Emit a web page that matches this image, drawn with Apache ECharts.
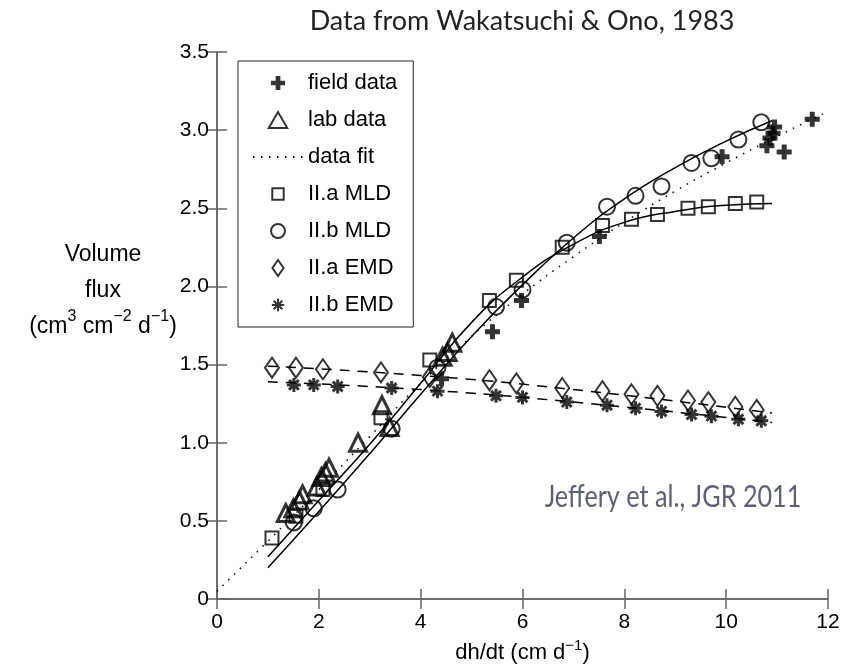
<!DOCTYPE html>
<html>
<head>
<meta charset="utf-8">
<script src="https://cdn.jsdelivr.net/npm/echarts@6/dist/echarts.min.js"></script>
<style>
  html, body { margin: 0; padding: 0; background: #fff; }
  #chart { width: 842px; height: 667px; }
</style>
</head>
<body>
<div id="chart"></div>
<script>
// tick labels
var xTickLabels = ['0', '2', '4', '6', '8', '10', '12'];
var yTickLabels = ['0', '0.5', '1.0', '1.5', '2.0', '2.5', '3.0', '3.5'];

// field data (crosses)
var fieldX = [4.41, 5.41, 5.98, 7.51, 9.92, 10.80, 10.86, 10.92, 10.95, 11.14, 11.69];
var fieldY = [1.41, 1.71, 1.91, 2.32, 2.83, 2.90, 2.95, 2.98, 3.02, 2.86, 3.07];

// lab data (triangles)
var labX = [1.35, 1.50, 1.62, 1.68, 1.96, 2.05, 2.13, 2.20, 2.77, 3.24, 3.39, 4.43, 4.53, 4.62];
var labY = [0.55, 0.58, 0.63, 0.67, 0.72, 0.78, 0.81, 0.84, 1.00, 1.24, 1.10, 1.55, 1.58, 1.64];

// data fit (dotted)
var fitX = [0, 1, 2, 3, 4, 5, 6, 7, 8, 9, 10, 11, 12];
var fitY = [0.05, 0.37, 0.70, 1.04, 1.38, 1.68, 1.95, 2.19, 2.41, 2.61, 2.79, 2.96, 3.12];

// II.a model points
var aX = [1.08, 1.55, 2.08, 3.22, 4.18, 5.35, 5.88, 6.78, 7.57, 8.14, 8.65, 9.25, 9.65, 10.18, 10.60];
var aMLD = [0.39, 0.53, 0.70, 1.16, 1.53, 1.91, 2.04, 2.25, 2.39, 2.43, 2.46, 2.50, 2.51, 2.53, 2.54];
var aEMD = [1.48, 1.48, 1.47, 1.45, 1.42, 1.40, 1.38, 1.35, 1.33, 1.31, 1.30, 1.27, 1.26, 1.23, 1.21];

// II.b model points
var bX = [1.51, 1.90, 2.37, 3.43, 4.33, 5.48, 6.00, 6.87, 7.66, 8.22, 8.73, 9.32, 9.71, 10.24, 10.69];
var bMLD = [0.49, 0.58, 0.70, 1.09, 1.48, 1.87, 1.98, 2.28, 2.51, 2.58, 2.64, 2.79, 2.82, 2.94, 3.05];
var bEMD = [1.37, 1.37, 1.36, 1.35, 1.33, 1.30, 1.29, 1.26, 1.24, 1.22, 1.20, 1.18, 1.17, 1.15, 1.14];

// fitted curves
var curveX = [1, 2, 3, 4, 5, 6, 7, 8, 9, 10, 10.9];
var aMLDFit = [0.27, 0.63, 0.99, 1.38, 1.77, 2.06, 2.27, 2.41, 2.48, 2.52, 2.53];
var bMLDFit = [0.20, 0.56, 0.93, 1.31, 1.68, 2.01, 2.31, 2.56, 2.76, 2.93, 3.06];
var emdX = [1, 4, 7, 10.9];
var aEMDFit = [1.49, 1.43, 1.34, 1.19];
var bEMDFit = [1.39, 1.34, 1.26, 1.13];

function pairs(xs, ys) {
    return xs.map(function (x, i) { return [x, ys[i]]; });
}

var font = 'Liberation Sans, Arial, sans-serif';
var axisColor = '#666';
var crossPath = 'path://M-1,-3H1V-1H3V1H1V3H-1V1H-3V-1H-1Z';
var starPath = 'path://M0,-10L0,10M-10,0L10,0M-7,-7L7,7M-7,7L7,-7';
// legend icons (extra move-to points pad the box so icons keep their size)
var legendIcons = {
    'field data': 'path://M-3.4,-3.4M3.4,3.4M-1,-3H1V-1H3V1H1V3H-1V1H-3V-1H-1Z',
    'lab data': 'path://M0,-10L8.66,5L-8.66,5Z',
    'II.a MLD': 'path://M-2,-2M12,12M0,0H10V10H0Z',
    'II.b MLD': 'path://M-11.5,-11.5M11.5,11.5M-10,0A10,10,0,1,0,10,0A10,10,0,1,0,-10,0Z',
    'II.a EMD': 'path://M0,-10L7,0L0,10L-7,0Z',
    'II.b EMD': 'path://M-13,-13M13,13M0,-10L0,10M-10,0L10,0M-7,-7L7,7M-7,7L7,-7'
};
var legendNames = ['field data', 'lab data', 'data fit', 'II.a MLD', 'II.b MLD', 'II.a EMD', 'II.b EMD'];

function curve(name, data, type) {
    return {
        name: name,
        type: 'line',
        data: data,
        smooth: true,
        showSymbol: false,
        symbol: 'none',
        silent: true,
        lineStyle: { color: '#000', width: 1.5, type: type || 'solid' },
        z: 2
    };
}

function hollow(name, data, symbol, size, bw) {
    return {
        name: name,
        type: 'scatter',
        data: data,
        symbol: symbol,
        symbolSize: size,
        itemStyle: { color: 'rgba(255,255,255,0)', borderColor: '#000', borderWidth: bw },
        z: 3
    };
}

var supStyle = { fontFamily: font, fontSize: 15, lineHeight: 18, verticalAlign: 'top', color: '#000' };

var chart = echarts.init(document.getElementById('chart'));
chart.setOption({
    animation: false,
    backgroundColor: '#fff',
    grid: { left: 217, right: 14, top: 52, bottom: 68, containLabel: false, outerBoundsMode: 'none' },
    legend: {
        data: legendNames.map(function (n) {
            return legendIcons[n] ? { name: n, icon: legendIcons[n] } : { name: n };
        }),
        orient: 'vertical',
        left: 238,
        top: 61,
        padding: [11, 16, 11, 14],
        itemWidth: 50,
        itemHeight: 16,
        itemGap: 15,
        backgroundColor: '#fff',
        borderColor: '#222',
        borderWidth: 1,
        borderRadius: 0,
        selectedMode: false,
        textStyle: { fontFamily: font, fontSize: 22, color: '#000', lineHeight: 22 }
    },
    xAxis: [{
        type: 'value',
        min: 0, max: 12, interval: 2,
        name: 'dh/dt (cm d{s|−1})',
        nameLocation: 'middle',
        nameGap: 39,
        nameTextStyle: { fontFamily: font, fontSize: 22, lineHeight: 30, color: '#000', rich: { s: supStyle } },
        axisLine: { lineStyle: { color: axisColor, width: 1.5 } },
        axisTick: { inside: true, length: 10, lineStyle: { color: axisColor, width: 1.5 } },
        axisLabel: {
            fontFamily: font, fontSize: 21, color: '#000', margin: 13,
            formatter: function (v) { return xTickLabels[Math.round(v / 2)]; }
        },
        splitLine: { show: false }
    }, {
        type: 'value', position: 'top',
        min: 0, max: 12, interval: 2,
        axisLine: { lineStyle: { color: axisColor, width: 1.5 } },
        axisTick: { inside: true, length: 10, lineStyle: { color: axisColor, width: 1.5 } },
        axisLabel: { show: false },
        splitLine: { show: false }
    }],
    yAxis: [{
        type: 'value',
        min: 0, max: 3.5, interval: 0.5,
        axisLine: { lineStyle: { color: axisColor, width: 1.5 } },
        axisTick: { inside: true, length: 10, lineStyle: { color: axisColor, width: 1.5 } },
        axisLabel: {
            fontFamily: font, fontSize: 21, color: '#000', margin: 8,
            formatter: function (v) { return yTickLabels[Math.round(v / 0.5)]; }
        },
        splitLine: { show: false }
    }, {
        type: 'value', position: 'right',
        min: 0, max: 3.5, interval: 0.5,
        axisLine: { lineStyle: { color: axisColor, width: 1.5 } },
        axisTick: { inside: true, length: 10, lineStyle: { color: axisColor, width: 1.5 } },
        axisLabel: { show: false },
        splitLine: { show: false }
    }],
    graphic: [{
        type: 'text', x: 522, y: 21,
        style: {
            text: 'Data from Wakatsuchi & Ono, 1983',
            fontFamily: 'Lato, sans-serif', fontSize: 27, fill: '#222',
            textAlign: 'center', textVerticalAlign: 'middle'
        }
    }, {
        type: 'text', x: 103, y: 291,
        style: {
            text: 'Volume\nflux\n(cm{s|3} cm{s|−2} d{s|−1})',
            fontFamily: font, fontSize: 23, lineHeight: 36, fill: '#000',
            textAlign: 'center', textVerticalAlign: 'middle',
            rich: { s: { fontFamily: font, fontSize: 16, lineHeight: 20, verticalAlign: 'top', fill: '#000' } }
        }
    }, {
        type: 'text', x: 673, y: 497, scaleX: 0.84,
        style: {
            text: 'Jeffery et al., JGR 2011',
            fontFamily: 'Lato, sans-serif', fontSize: 30, fill: '#5c5f76',
            textAlign: 'center', textVerticalAlign: 'middle'
        }
    }],
    series: [
        curve('fit a MLD', pairs(curveX, aMLDFit)),
        curve('fit b MLD', pairs(curveX, bMLDFit)),
        curve('fit a EMD', pairs(emdX, aEMDFit), [10, 8]),
        curve('fit b EMD', pairs(emdX, bEMDFit), [10, 8]),
        {
            name: 'data fit',
            type: 'line',
            data: pairs(fitX, fitY),
            smooth: true,
            symbol: 'none',
            showSymbol: false,
            itemStyle: { color: '#000', opacity: 0 },
            lineStyle: { color: '#000', width: 1.5, type: [1.5, 6.5], opacity: 1 },
            z: 2
        },
        hollow('II.a MLD', pairs(aX, aMLD), 'rect', 13, 2),
        hollow('II.b MLD', pairs(bX, bMLD), 'circle', 16, 2),
        hollow('II.a EMD', pairs(aX, aEMD), 'diamond', [14, 20], 2),
        {
            name: 'II.b EMD',
            type: 'scatter',
            data: pairs(bX, bEMD),
            symbol: starPath,
            symbolSize: 14,
            itemStyle: { color: '#000', borderColor: '#000', borderWidth: 3 },
            z: 3
        },
        hollow('lab data', pairs(labX, labY), 'triangle', 17, 3),
        {
            name: 'field data',
            type: 'scatter',
            data: pairs(fieldX, fieldY),
            symbol: crossPath,
            symbolSize: 15,
            itemStyle: { color: '#000' },
            z: 4
        }
    ]
});
</script>
</body>
</html>
